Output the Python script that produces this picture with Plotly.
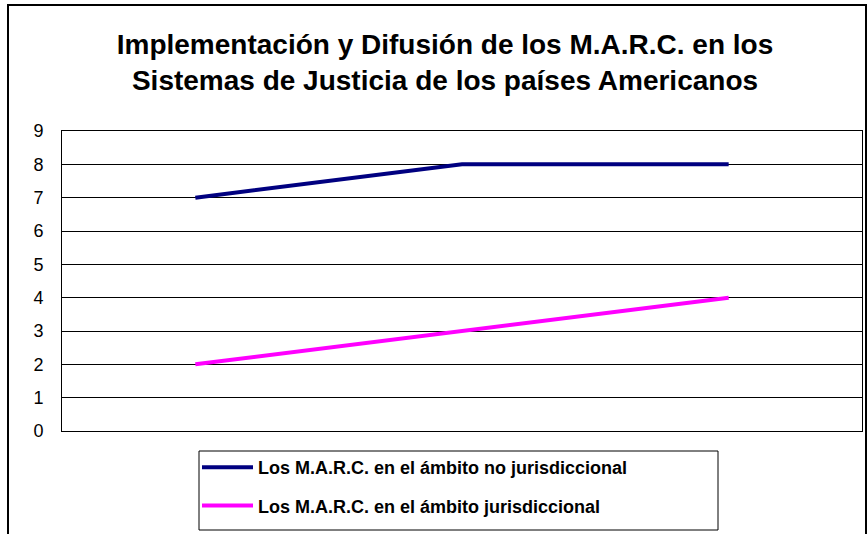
import plotly.graph_objects as go

categories = ["A", "B", "C"]
no_jurisdiccional = [7, 8, 8]
jurisdiccional = [2, 3, 4]
series_names = ["Los M.A.R.C. en el ámbito no jurisdiccional",
                "Los M.A.R.C. en el ámbito jurisdiccional"]
title_text = "Implementación y Difusión de los M.A.R.C. en los<br>Sistemas de Justicia de los países Americanos"

fig = go.Figure()
fig.add_trace(go.Scatter(x=categories, y=no_jurisdiccional, mode="lines",
                         name="<b>" + series_names[0] + "</b>", legendgroup="g1",
                         line=dict(color="#000080", width=4)))
fig.add_trace(go.Scatter(x=categories, y=jurisdiccional, mode="lines",
                         name="<b>" + series_names[1] + "</b>", legendgroup="g2",
                         line=dict(color="#FF00FF", width=4)))

L, R, T, B = 62, 6, 131, 103
W, H = 868, 534
pw, ph = W - L - R, H - T - B

def px(x):
    return (x - L) / pw

def py(y):
    return (H - B - y) / ph

fig.update_layout(
    width=W, height=H,
    margin=dict(l=L, r=R, t=T, b=B),
    paper_bgcolor="white", plot_bgcolor="white",
    font=dict(family="Liberation Sans, Arial, sans-serif", color="black"),
    title=dict(text="<b>" + title_text + "</b>", xref="paper", x=px(445),
               xanchor="center", y=1 - 54 / H, yanchor="middle",
               font=dict(size=28, color="black")),
    xaxis=dict(type="category", range=[-0.5, 2.5], showticklabels=False,
               showgrid=False, zeroline=False, showline=True, linecolor="black",
               linewidth=1, mirror=True, ticks=""),
    yaxis=dict(range=[0, 9], dtick=1, showgrid=True, gridcolor="black",
               gridwidth=1, zeroline=False, showline=True, linecolor="black",
               linewidth=1, mirror=True, ticks="", tickfont=dict(size=18),
               ticklabelstandoff=14),
    showlegend=True,
    legend=dict(x=px(197), y=py(449), xanchor="left", yanchor="top",
                borderwidth=0, bgcolor="rgba(0,0,0,0)",
                font=dict(size=18, color="black"), traceorder="grouped",
                tracegroupgap=12, itemwidth=51),
    shapes=[dict(type="rect", xref="paper", yref="paper",
                 x0=px(8), x1=px(866), y0=py(545), y1=py(5),
                 line=dict(color="black", width=2), fillcolor="rgba(0,0,0,0)",
                 layer="below"),
            dict(type="rect", xref="paper", yref="paper",
                 x0=px(199), x1=px(718), y0=py(530), y1=py(451),
                 line=dict(color="black", width=1), fillcolor="white",
                 layer="below")],
)

fig.write_html("out.html", config={"displayModeBar": False},
               post_script="document.body.style.margin='0';")
